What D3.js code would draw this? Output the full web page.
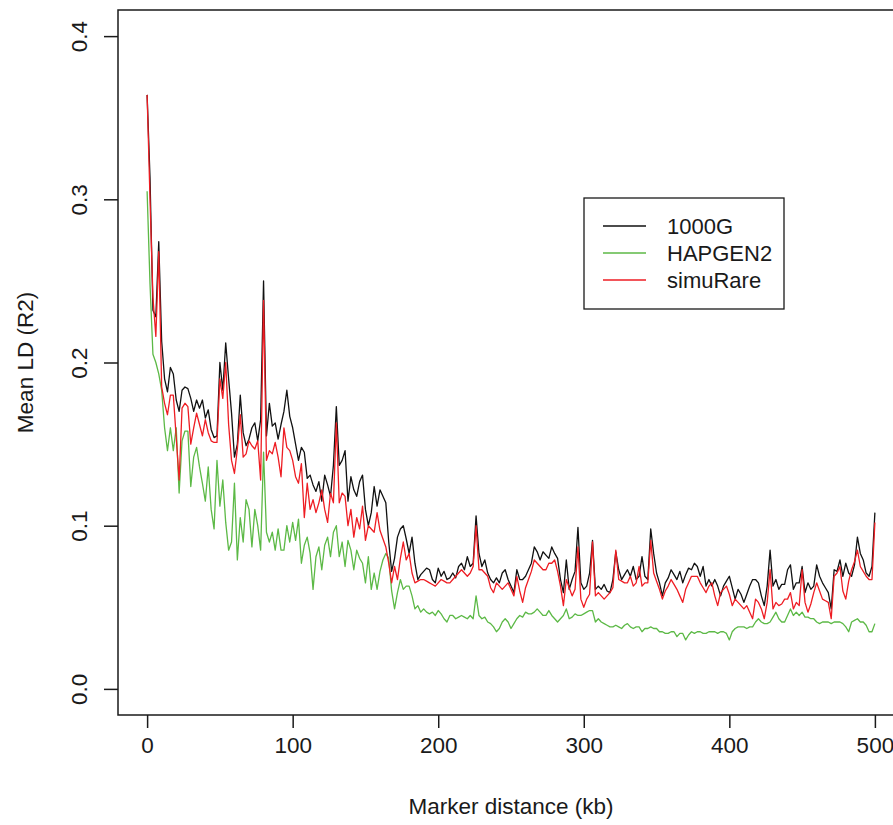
<!DOCTYPE html>
<html>
<head>
<meta charset="utf-8">
<script src="https://cdn.jsdelivr.net/npm/d3@7"></script>
<style>
  html, body { margin: 0; padding: 0; background: #fff; }
  svg { display: block; }
  text { font-family: "Liberation Sans", Arial, Helvetica, sans-serif; fill: #1a1a1a; }
</style>
</head>
<body>
<svg id="chart" width="893" height="825"></svg>
<script>
// ---------------- data (2 kb steps, 0..500 kb) ----------------
const stepKb = 2;
const xTicks = [0, 100, 200, 300, 400, 500];
const yTicks = [0.0, 0.1, 0.2, 0.3, 0.4];
const yTickLabels = ["0.0", "0.1", "0.2", "0.3", "0.4"];
const seriesNames = ["1000G", "HAPGEN2", "simuRare"];
const seriesColors = ["#111111", "#5cb946", "#ee1d23"];

const ld1000G = [
  0.364, 0.313, 0.232, 0.228, 0.274,
  0.213, 0.190, 0.182, 0.197, 0.193,
  0.177, 0.170, 0.183, 0.185, 0.184,
  0.178, 0.170, 0.177, 0.172, 0.177,
  0.166, 0.171, 0.159, 0.154, 0.155,
  0.200, 0.183, 0.212, 0.190, 0.169,
  0.142, 0.150, 0.180, 0.157, 0.149,
  0.153, 0.160, 0.163, 0.152, 0.165,
  0.250, 0.155, 0.175, 0.161, 0.163,
  0.153, 0.162, 0.170, 0.183, 0.167,
  0.160, 0.150, 0.140, 0.148, 0.145,
  0.129, 0.131, 0.125, 0.121, 0.127,
  0.115, 0.131, 0.125, 0.118, 0.137,
  0.173, 0.137, 0.140, 0.146, 0.115,
  0.130, 0.122, 0.118, 0.127, 0.131,
  0.110, 0.100, 0.108, 0.124, 0.112,
  0.122, 0.118, 0.114, 0.090, 0.072,
  0.080, 0.093, 0.098, 0.100, 0.092,
  0.083, 0.093, 0.077, 0.067, 0.070,
  0.072, 0.074, 0.073, 0.067, 0.065,
  0.074, 0.069, 0.072, 0.067, 0.068,
  0.071, 0.068, 0.075, 0.077, 0.073,
  0.081, 0.075, 0.077, 0.106, 0.083,
  0.075, 0.079, 0.071, 0.067, 0.065,
  0.068, 0.065, 0.071, 0.073, 0.067,
  0.063, 0.059, 0.073, 0.067, 0.067,
  0.069, 0.073, 0.077, 0.087, 0.084,
  0.079, 0.084, 0.082, 0.080, 0.087,
  0.083, 0.080, 0.067, 0.059, 0.079,
  0.061, 0.067, 0.072, 0.099, 0.065,
  0.061, 0.063, 0.071, 0.091, 0.061,
  0.063, 0.061, 0.064, 0.060, 0.059,
  0.067, 0.084, 0.073, 0.067, 0.070,
  0.073, 0.069, 0.075, 0.067, 0.069,
  0.081, 0.069, 0.067, 0.098, 0.083,
  0.071, 0.065, 0.057, 0.065, 0.068,
  0.073, 0.070, 0.067, 0.072, 0.065,
  0.070, 0.074, 0.073, 0.077, 0.075,
  0.069, 0.075, 0.063, 0.067, 0.063,
  0.067, 0.063, 0.057, 0.063, 0.066,
  0.069, 0.062, 0.055, 0.061, 0.058,
  0.053, 0.058, 0.063, 0.067, 0.067,
  0.065, 0.057, 0.051, 0.063, 0.085,
  0.063, 0.067, 0.061, 0.064, 0.064,
  0.073, 0.076, 0.061, 0.065, 0.065,
  0.075, 0.059, 0.065, 0.061, 0.063,
  0.076, 0.069, 0.065, 0.062, 0.059,
  0.049, 0.073, 0.072, 0.079, 0.069,
  0.077, 0.071, 0.069, 0.076, 0.093,
  0.083, 0.079, 0.071, 0.069, 0.075,
  0.108
];

const ldHAPGEN2 = [
  0.305, 0.248, 0.205, 0.200, 0.193,
  0.183, 0.160, 0.146, 0.160, 0.146,
  0.160, 0.120, 0.152, 0.158, 0.158,
  0.124, 0.142, 0.148, 0.136, 0.126,
  0.115, 0.136, 0.110, 0.098, 0.140,
  0.112, 0.128, 0.102, 0.085, 0.090,
  0.126, 0.079, 0.105, 0.090, 0.116,
  0.110, 0.087, 0.110, 0.100, 0.085,
  0.145, 0.096, 0.090, 0.096, 0.085,
  0.098, 0.085, 0.085, 0.100, 0.090,
  0.102, 0.091, 0.104, 0.077, 0.088,
  0.093, 0.083, 0.061, 0.081, 0.087,
  0.073, 0.088, 0.093, 0.081, 0.096,
  0.100, 0.081, 0.090, 0.075, 0.091,
  0.085, 0.073, 0.085, 0.080, 0.077,
  0.065, 0.081, 0.061, 0.071, 0.061,
  0.072, 0.079, 0.083, 0.080, 0.060,
  0.049, 0.059, 0.067, 0.061, 0.063,
  0.063, 0.057, 0.049, 0.051, 0.047,
  0.049, 0.047, 0.046, 0.047, 0.045,
  0.048, 0.046, 0.043, 0.041, 0.045,
  0.045, 0.043, 0.044, 0.045, 0.044,
  0.043, 0.045, 0.043, 0.057, 0.045,
  0.043, 0.044, 0.041, 0.040, 0.038,
  0.035, 0.037, 0.041, 0.043, 0.041,
  0.037, 0.040, 0.043, 0.045, 0.044,
  0.047, 0.046, 0.046, 0.047, 0.049,
  0.047, 0.045, 0.045, 0.048, 0.045,
  0.043, 0.041, 0.043, 0.045, 0.049,
  0.043, 0.044, 0.046, 0.045, 0.045,
  0.046, 0.047, 0.048, 0.048, 0.041,
  0.043, 0.041, 0.040, 0.039, 0.038,
  0.038, 0.039, 0.038, 0.037, 0.039,
  0.040, 0.038, 0.037, 0.038, 0.038,
  0.035, 0.037, 0.037, 0.038, 0.037,
  0.037, 0.035, 0.035, 0.034, 0.034,
  0.035, 0.035, 0.032, 0.034, 0.034,
  0.030, 0.033, 0.035, 0.034, 0.035,
  0.035, 0.034, 0.034, 0.035, 0.035,
  0.035, 0.034, 0.035, 0.035, 0.034,
  0.030, 0.035, 0.037, 0.038, 0.038,
  0.038, 0.037, 0.038, 0.038, 0.041,
  0.043, 0.041, 0.040, 0.040, 0.041,
  0.044, 0.047, 0.043, 0.041, 0.041,
  0.045, 0.049, 0.045, 0.047, 0.045,
  0.047, 0.044, 0.044, 0.043, 0.043,
  0.041, 0.040, 0.041, 0.041, 0.041,
  0.040, 0.041, 0.041, 0.041, 0.040,
  0.038, 0.035, 0.041, 0.042, 0.043,
  0.041, 0.041, 0.039, 0.035, 0.035,
  0.040
];

const ldSimuRare = [
  0.364, 0.300, 0.240, 0.216, 0.268,
  0.185, 0.175, 0.168, 0.180, 0.180,
  0.154, 0.128, 0.172, 0.175, 0.173,
  0.150, 0.160, 0.169, 0.162, 0.155,
  0.165, 0.157, 0.152, 0.151, 0.151,
  0.190, 0.178, 0.200, 0.162, 0.140,
  0.132, 0.147, 0.168, 0.142, 0.144,
  0.152, 0.149, 0.147, 0.152, 0.128,
  0.238, 0.140, 0.146, 0.144, 0.151,
  0.142, 0.130, 0.160, 0.148, 0.146,
  0.140, 0.130, 0.126, 0.138, 0.105,
  0.126, 0.110, 0.116, 0.108, 0.114,
  0.122, 0.110, 0.102, 0.120, 0.114,
  0.163, 0.114, 0.120, 0.118, 0.100,
  0.110, 0.093, 0.105, 0.098, 0.112,
  0.091, 0.100, 0.098, 0.096, 0.108,
  0.097, 0.092, 0.087, 0.077, 0.065,
  0.075, 0.067, 0.080, 0.090, 0.079,
  0.083, 0.071, 0.065, 0.066, 0.067,
  0.067, 0.066, 0.065, 0.064, 0.063,
  0.065, 0.067, 0.066, 0.065, 0.065,
  0.067, 0.069, 0.071, 0.073, 0.071,
  0.069, 0.071, 0.075, 0.100, 0.073,
  0.073, 0.071, 0.069, 0.062, 0.059,
  0.065, 0.063, 0.061, 0.063, 0.065,
  0.061, 0.057, 0.069, 0.060, 0.053,
  0.062, 0.067, 0.072, 0.079, 0.077,
  0.075, 0.073, 0.073, 0.077, 0.077,
  0.079, 0.072, 0.063, 0.051, 0.067,
  0.062, 0.057, 0.061, 0.087, 0.055,
  0.050, 0.055, 0.058, 0.090, 0.057,
  0.059, 0.057, 0.055, 0.057, 0.059,
  0.062, 0.085, 0.067, 0.066, 0.065,
  0.065, 0.069, 0.063, 0.065, 0.075,
  0.063, 0.065, 0.065, 0.091, 0.071,
  0.066, 0.061, 0.055, 0.060, 0.063,
  0.067, 0.064, 0.061, 0.057, 0.053,
  0.061, 0.065, 0.069, 0.069, 0.069,
  0.065, 0.062, 0.059, 0.063, 0.065,
  0.057, 0.051, 0.059, 0.061, 0.063,
  0.058, 0.051, 0.055, 0.053, 0.051,
  0.049, 0.051, 0.047, 0.043, 0.055,
  0.053, 0.049, 0.043, 0.053, 0.073,
  0.049, 0.053, 0.051, 0.052, 0.055,
  0.055, 0.059, 0.049, 0.053, 0.051,
  0.073, 0.053, 0.047, 0.052, 0.059,
  0.065, 0.060, 0.055, 0.054, 0.053,
  0.043, 0.069, 0.071, 0.075, 0.060,
  0.055, 0.066, 0.073, 0.078, 0.085,
  0.075, 0.072, 0.069, 0.067, 0.067,
  0.102
];

// ---------------- layout ----------------
const svg = d3.select("#chart");
const plot = { left: 118, top: 10, right: 904, bottom: 715 };

const x = d3.scaleLinear().domain([-20, 520]).range([plot.left, plot.right]);
const y = d3.scaleLinear().domain([-0.016, 0.416]).range([plot.bottom, plot.top]);

const seriesData = [ld1000G, ldHAPGEN2, ldSimuRare];

// lines
const line = d3.line()
  .x((d, i) => x(i * stepKb))
  .y(d => y(d));

const gLines = svg.append("g");
seriesData.forEach((vals, k) => {
  gLines.append("path")
    .datum(vals)
    .attr("fill", "none")
    .attr("stroke", seriesColors[k])
    .attr("stroke-width", 1.3)
    .attr("stroke-linejoin", "round")
    .attr("d", line);
});

// box
svg.append("rect")
  .attr("x", plot.left).attr("y", plot.top)
  .attr("width", plot.right - plot.left).attr("height", plot.bottom - plot.top)
  .attr("fill", "none").attr("stroke", "#1a1a1a").attr("stroke-width", 1.5);

// x axis
const xAxis = d3.axisBottom(x).tickValues(xTicks).tickSize(13).tickPadding(9)
  .tickFormat(d3.format("d"));
const gx = svg.append("g").attr("transform", `translate(0,${plot.bottom})`).call(xAxis);
gx.select(".domain").remove();
gx.selectAll(".tick line").attr("stroke", "#1a1a1a").attr("stroke-width", 1.5);
gx.selectAll(".tick text").attr("font-size", 22.5).attr("fill", "#1a1a1a")
  .style("font-family", "'Liberation Sans', Arial, sans-serif");

// y axis
const yAxis = d3.axisLeft(y).tickValues(yTicks).tickSize(14)
  .tickFormat((d, i) => yTickLabels[i]);
const gy = svg.append("g").attr("transform", `translate(${plot.left},0)`).call(yAxis);
gy.select(".domain").remove();
gy.selectAll(".tick line").attr("stroke", "#1a1a1a").attr("stroke-width", 1.5);
gy.selectAll(".tick text")
  .attr("x", null).attr("dy", null)
  .attr("transform", "translate(-31,0) rotate(-90)")
  .attr("text-anchor", "middle")
  .attr("font-size", 22.5).attr("fill", "#1a1a1a")
  .style("font-family", "'Liberation Sans', Arial, sans-serif");

// axis titles
svg.append("text")
  .attr("x", (plot.left + plot.right) / 2).attr("y", 814)
  .attr("text-anchor", "middle").attr("font-size", 22.5)
  .text("Marker distance (kb)");

svg.append("text")
  .attr("transform", `translate(33,${(plot.top + plot.bottom) / 2}) rotate(-90)`)
  .attr("text-anchor", "middle").attr("font-size", 22.5)
  .text("Mean LD (R2)");

// legend
const leg = svg.append("g");
leg.append("rect")
  .attr("x", 584).attr("y", 198).attr("width", 200).attr("height", 111)
  .attr("fill", "#fff").attr("stroke", "#1a1a1a").attr("stroke-width", 1.3);
seriesNames.forEach((name, k) => {
  const ly = 226 + k * 27;
  leg.append("line")
    .attr("x1", 603).attr("x2", 646).attr("y1", ly).attr("y2", ly)
    .attr("stroke", seriesColors[k]).attr("stroke-width", 1.5);
  leg.append("text")
    .attr("x", 667).attr("y", ly + 8)
    .attr("font-size", 22)
    .text(name);
});
</script>
</body>
</html>
